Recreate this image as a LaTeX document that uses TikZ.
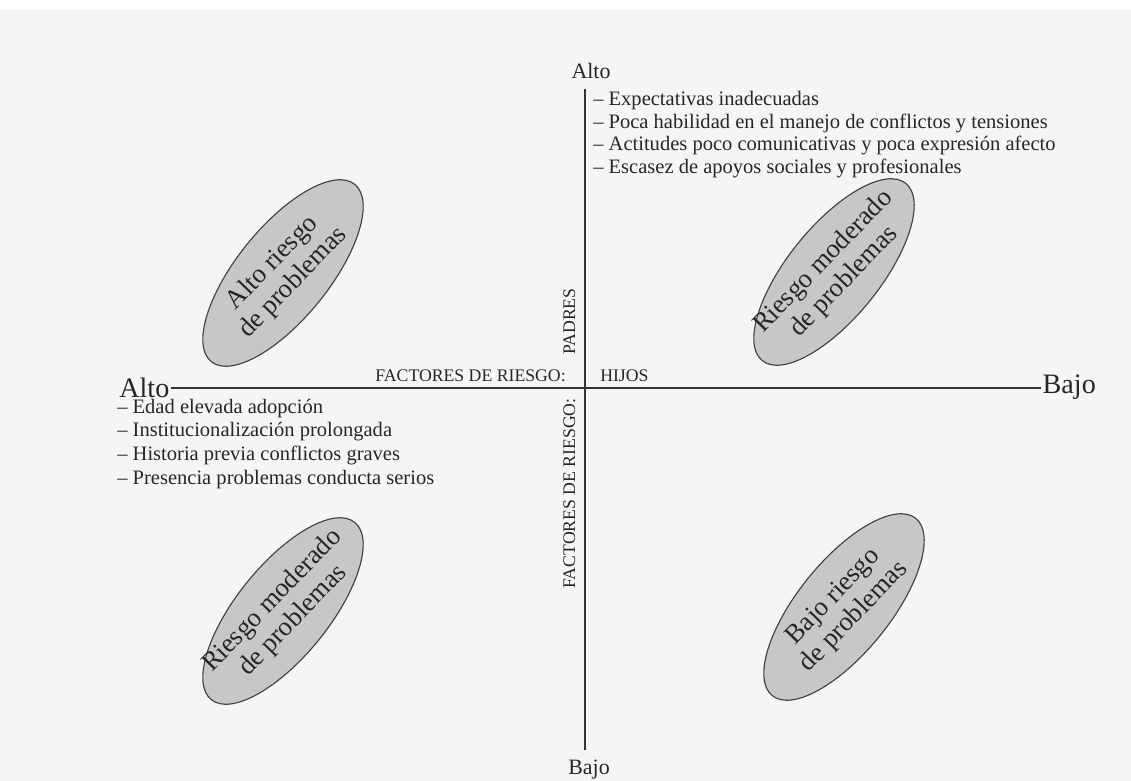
\documentclass[tikz,border=0pt]{standalone}
\usepackage{fontspec}
\setmainfont{Liberation Serif}
\usetikzlibrary{shapes.geometric}

\tikzset{
  blob/.style={ellipse, draw=black!75, fill=black!22, line width=0.8pt,
    minimum width=5.7cm, minimum height=2.3cm, rotate=51},
  blobtext/.style={rotate=46, align=center, inner sep=0pt, text=black!85,
    font=\fontsize{19}{20.5}\selectfont},
  axislabel/.style={inner sep=1pt, text=black!85, font=\fontsize{15.6}{18}\selectfont},
  sidelabel/.style={axislabel, font=\fontsize{20}{24}\selectfont},
  item/.style={anchor=base west, inner sep=0pt, text=black!85, font=\fontsize{14.6}{16}\selectfont},
  caps/.style={inner sep=0pt, text=black!85, font=\fontsize{12.6}{14}\selectfont},
  axis/.style={line width=0.9pt, black!80}
}

\begin{document}
\begin{tikzpicture}[x=0.025cm, y=-0.025cm]
\useasboundingbox (0,0) rectangle (1131,781);
\fill[black!4] (0,10) rectangle (1131,781);

\coordinate (axtop) at (585,89);
\coordinate (axbot) at (585,750);

\node[axislabel] (altoN) at (591,71) {Alto};
\node[axislabel, anchor=base] (bajoS) at (589,774) {Bajo};
\node[sidelabel, anchor=east] (altoW) at (171,388) {Alto};
\node[sidelabel, anchor=base west] (bajoE) at (1041,393) {Bajo};

\draw[axis] (axtop) -- (axbot);
\draw[axis] (altoW.east) -- (altoW.east -| bajoE.west);

\node[caps, anchor=base east] (frh) at (566,381) {FACTORES DE RIESGO:};
\node[caps, anchor=base west] (hijos) at (600,381) {HIJOS};
\node[caps, anchor=base west, rotate=90] (padres) at (575,355) {PADRES};
\node[caps, anchor=base east, rotate=90] (frv) at (575,398) {FACTORES DE RIESGO:};

\foreach \txt [count=\i from 0] in {Expectativas inadecuadas,
    Poca habilidad en el manejo de conflictos y tensiones,
    Actitudes poco comunicativas y poca expresión afecto,
    Escasez de apoyos sociales y profesionales}
  \node[item] (p\i) at (593,{106+22.5*\i}) {– \txt};

\foreach \txt [count=\i from 0] in {Edad elevada adopción,
    Institucionalización prolongada,
    Historia previa conflictos graves,
    Presencia problemas conducta serios}
  \node[item] (h\i) at (117,{413+23.7*\i}) {– \txt};

\node[blob] (tl) at (283,273) {};
\node[blob] (tr) at (834,272) {};
\node[blob] (bl) at (283,611) {};
\node[blob] (br) at (844,607) {};

\node[blobtext] (tlt) at (tl) {Alto riesgo\\de problemas};
\node[blobtext] (trt) at (tr) {Riesgo moderado\\de problemas};
\node[blobtext] (blt) at (bl) {Riesgo moderado\\de problemas};
\node[blobtext] (brt) at (br) {Bajo riesgo\\de problemas};
\end{tikzpicture}
\end{document}
